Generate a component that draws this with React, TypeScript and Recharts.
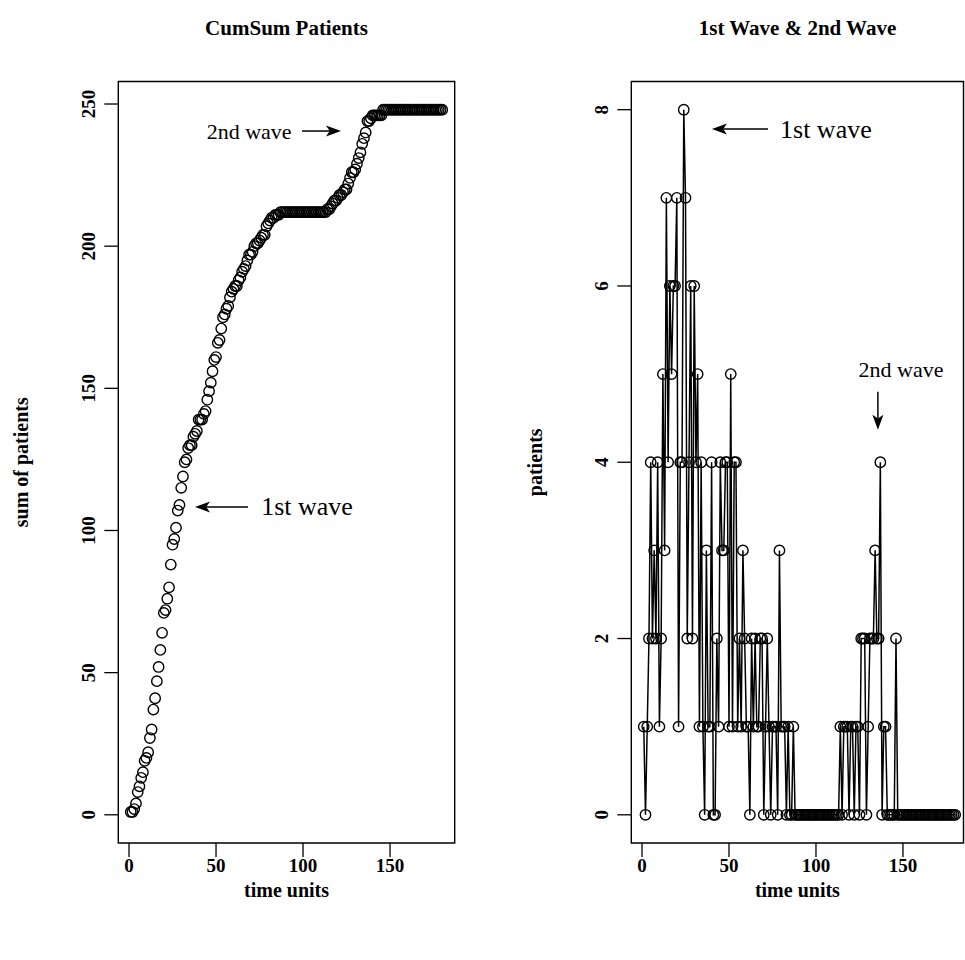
import {
    ComposedChart,
    Scatter,
    Line,
    XAxis,
    YAxis,
    ReferenceArea,
    ReferenceLine,
    ReferenceDot,
} from 'recharts';

// daily new patients, time units 1..180
const PATIENTS: number[] = [
    1, 0, 1, 2, 4, 2, 3, 2, 4, 1,
    2, 5, 3, 7, 4, 6, 5, 6, 6, 7,
    1, 4, 4, 8, 7, 2, 4, 6, 2, 6,
    4, 5, 1, 4, 1, 0, 3, 1, 1, 4,
    0, 0, 2, 1, 4, 3, 3, 4, 4, 1,
    5, 1, 4, 4, 1, 2, 1, 3, 2, 1,
    1, 0, 2, 1, 2, 1, 1, 2, 2, 0,
    1, 2, 1, 0, 1, 1, 1, 0, 3, 1,
    1, 1, 0, 1, 0, 0, 1, 0, 0, 0,
    0, 0, 0, 0, 0, 0, 0, 0, 0, 0,
    0, 0, 0, 0, 0, 0, 0, 0, 0, 0,
    0, 0, 0, 1, 0, 1, 1, 1, 0, 1,
    1, 0, 1, 1, 0, 2, 2, 2, 0, 1,
    2, 2, 2, 3, 2, 2, 4, 0, 1, 1,
    0, 0, 0, 0, 0, 2, 0, 0, 0, 0,
    0, 0, 0, 0, 0, 0, 0, 0, 0, 0,
    0, 0, 0, 0, 0, 0, 0, 0, 0, 0,
    0, 0, 0, 0, 0, 0, 0, 0, 0, 0,
];

const X_TICKS = [0, 50, 100, 150];
const CUM_TICKS = [0, 50, 100, 150, 200, 250];
const DAILY_TICKS = [0, 2, 4, 6, 8];

// R style axis ranges (data range + 4% each side)
const X_DOMAIN: [number, number] = [-6.16, 187.16];
const X_DOMAIN_RIGHT: [number, number] = [-6.16, 184.8];
const CUM_DOMAIN: [number, number] = [-9.92, 257.92];
const DAILY_DOMAIN: [number, number] = [-0.32, 8.32];

const rows = (() => {
    let run = 0;
    return PATIENTS.map((n, i) => {
        run += n;
        return { t: i + 1, n, cum: run };
    });
})();

const FONT = '"Liberation Serif", "DejaVu Serif", serif';

const Ring = (p: any) =>
    p.cx == null || p.cy == null ? null : (
        <circle key={p.key} cx={p.cx} cy={p.cy} r={5.2} fill="none" stroke="#000" strokeWidth={1.4} />
    );

const VTick = (p: any) => {
    const x = p.x - 7;
    return (
        <text
            x={x}
            y={p.y}
            transform={`rotate(-90 ${x} ${p.y})`}
            textAnchor="middle"
            fontFamily={FONT}
            fontSize={19}
            fontWeight="bold"
            fill="#000"
        >
            {p.payload.value}
        </text>
    );
};

const xTick = { fill: '#000', fontSize: 19, fontFamily: FONT, fontWeight: 'bold' };

const ArrowShape = (p: any) => {
    const { x1, y1, x2, y2 } = p;
    const dx = x2 - x1;
    const dy = y2 - y1;
    const len = Math.hypot(dx, dy) || 1;
    const ux = dx / len;
    const uy = dy / len;
    const hl = 15;
    const hw = 5.5;
    const bx = x2 - ux * hl;
    const by = y2 - uy * hl;
    const nx = x2 - ux * hl * 0.75;
    const ny = y2 - uy * hl * 0.75;
    const pts = [
        `${x2},${y2}`,
        `${bx - uy * hw},${by + ux * hw}`,
        `${nx},${ny}`,
        `${bx + uy * hw},${by - ux * hw}`,
    ].join(' ');
    return (
        <g>
            <line x1={x1} y1={y1} x2={nx} y2={ny} stroke="#000" strokeWidth={1.5} />
            <polygon points={pts} fill="#000" />
        </g>
    );
};

const note = (label: string, size: number) => (p: any) =>
    (
        <text
            x={p.cx}
            y={p.cy}
            textAnchor="middle"
            dominantBaseline="central"
            fontFamily={FONT}
            fontSize={size}
            fill="#000"
        >
            {label}
        </text>
    );

const xLabel = (props: any) => {
    const vb = props.viewBox;
    return (
        <text x={vb.x + vb.width / 2} y={vb.y + 54} textAnchor="middle" fontFamily={FONT} fontSize={20} fontWeight="bold">
            time units
        </text>
    );
};

const yLabel = (value: string, gap: number) => (props: any) => {
    const vb = props.viewBox;
    const x = vb.x + vb.width - gap;
    const y = vb.y + vb.height / 2;
    return (
        <text x={x} y={y} transform={`rotate(-90 ${x} ${y})`} textAnchor="middle" fontFamily={FONT} fontSize={20} fontWeight="bold">
            {value}
        </text>
    );
};

const titleStyle = {
    position: 'absolute' as const,
    top: 16,
    textAlign: 'center' as const,
    fontFamily: FONT,
    fontWeight: 'bold' as const,
    fontSize: 21,
    color: '#000',
};

export default function App() {
    return (
        <div
            style={{
                position: 'absolute',
                left: 0,
                top: 0,
                width: 965,
                height: 960,
                overflow: 'hidden',
                background: '#fff',
            }}
        >
            <div style={{ ...titleStyle, left: 118, width: 337 }}>CumSum Patients</div>
            <div style={{ ...titleStyle, left: 631, width: 333 }}>1st Wave &amp; 2nd Wave</div>

            <div style={{ position: 'absolute', left: 0, top: 0 }}>
                <ComposedChart
                    width={480}
                    height={960}
                    data={rows}
                    margin={{ top: 81.5, right: 25.3, bottom: 57, left: 58.3 }}
                >
                    <XAxis
                        dataKey="t"
                        type="number"
                        domain={X_DOMAIN}
                        ticks={X_TICKS}
                        interval={0}
                        allowDataOverflow
                        height={60}
                        axisLine={false}
                        tickLine={{ stroke: '#000', strokeWidth: 1.3 }}
                        tickSize={14}
                        tick={xTick}
                        label={{ content: xLabel }}
                    />
                    <YAxis
                        type="number"
                        domain={CUM_DOMAIN}
                        ticks={CUM_TICKS}
                        interval={0}
                        allowDataOverflow
                        width={60}
                        axisLine={false}
                        tickLine={{ stroke: '#000', strokeWidth: 1.3 }}
                        tickSize={14}
                        tick={VTick}
                        label={{ content: yLabel('sum of patients', 90) }}
                    />
                    <ReferenceArea
                        x1={X_DOMAIN[0]}
                        x2={X_DOMAIN[1]}
                        y1={CUM_DOMAIN[0]}
                        y2={CUM_DOMAIN[1]}
                        fill="none"
                        stroke="#000"
                        strokeWidth={1.4}
                        fillOpacity={0}
                    />
                    <Scatter dataKey="cum" shape={Ring} isAnimationActive={false} />
                    <ReferenceLine
                        segment={[{ x: 99.4, y: 240.5 }, { x: 121.8, y: 240.5 }]}
                        shape={ArrowShape}
                    />
                    <ReferenceLine
                        segment={[{ x: 68.4, y: 108.3 }, { x: 37.9, y: 108.3 }]}
                        shape={ArrowShape}
                    />
                    <ReferenceDot x={69} y={240.5} r={0} shape={note('2nd wave', 22)} />
                    <ReferenceDot x={102.3} y={108.3} r={0} shape={note('1st wave', 26)} />
                </ComposedChart>
            </div>

            <div style={{ position: 'absolute', left: 480, top: 0 }}>
                <ComposedChart
                    width={510}
                    height={960}
                    data={rows}
                    margin={{ top: 81.5, right: 26.5, bottom: 57, left: 91.3 }}
                >
                    <XAxis
                        dataKey="t"
                        type="number"
                        domain={X_DOMAIN_RIGHT}
                        ticks={X_TICKS}
                        interval={0}
                        allowDataOverflow
                        height={60}
                        axisLine={false}
                        tickLine={{ stroke: '#000', strokeWidth: 1.3 }}
                        tickSize={14}
                        tick={xTick}
                        label={{ content: xLabel }}
                    />
                    <YAxis
                        type="number"
                        domain={DAILY_DOMAIN}
                        ticks={DAILY_TICKS}
                        interval={0}
                        allowDataOverflow
                        width={60}
                        axisLine={false}
                        tickLine={{ stroke: '#000', strokeWidth: 1.3 }}
                        tickSize={14}
                        tick={VTick}
                        label={{ content: yLabel('patients', 89) }}
                    />
                    <ReferenceArea
                        x1={X_DOMAIN_RIGHT[0]}
                        x2={X_DOMAIN_RIGHT[1]}
                        y1={DAILY_DOMAIN[0]}
                        y2={DAILY_DOMAIN[1]}
                        fill="none"
                        stroke="#000"
                        strokeWidth={1.4}
                        fillOpacity={0}
                    />
                    <Line
                        type="linear"
                        dataKey="n"
                        stroke="#000"
                        strokeWidth={1.5}
                        dot={Ring}
                        activeDot={false}
                        isAnimationActive={false}
                    />
                    <ReferenceLine
                        segment={[{ x: 72.4, y: 7.78 }, { x: 40.2, y: 7.78 }]}
                        shape={ArrowShape}
                    />
                    <ReferenceLine
                        segment={[{ x: 135.6, y: 4.8 }, { x: 135.6, y: 4.37 }]}
                        shape={ArrowShape}
                    />
                    <ReferenceDot x={105.7} y={7.78} r={0} shape={note('1st wave', 26)} />
                    <ReferenceDot x={148.9} y={5.05} r={0} shape={note('2nd wave', 22)} />
                </ComposedChart>
            </div>
        </div>
    );
}
